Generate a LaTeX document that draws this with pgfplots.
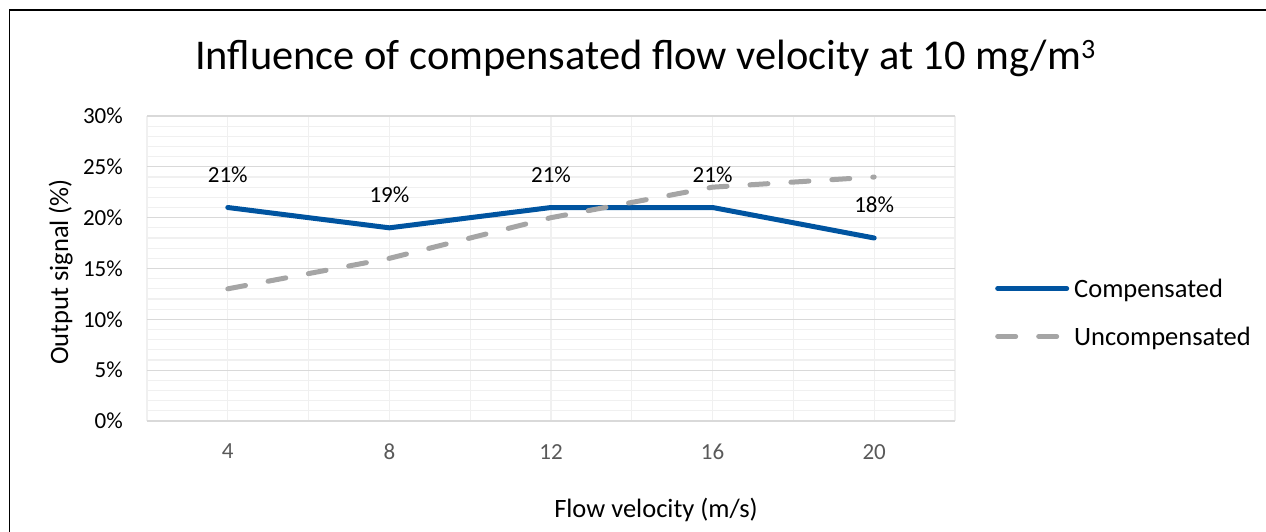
\documentclass[border=0pt]{standalone}
\usepackage{pgfplots}
\pgfplotsset{compat=1.18}
\usepackage{fontspec}
\setmainfont{Carlito}
\definecolor{compblue}{RGB}{0,84,160}
\definecolor{uncgray}{RGB}{165,165,165}
\definecolor{majgrid}{RGB}{217,217,217}
\definecolor{mingrid}{RGB}{240,240,240}
\definecolor{ticktext}{RGB}{89,89,89}
\begin{document}
\begin{tikzpicture}[x=1pt,y=1pt]
\path[use as bounding box] (0pt,0pt) rectangle (1266pt,531pt);
\draw[line width=1.6pt,black] (9.5pt,-20pt) -- (9.5pt,521pt) -- (1290pt,521pt);
\node[anchor=base west,inner sep=0pt,font=\fontsize{42.4}{50}\selectfont] at (195pt,461pt)
  {Influence of compensated flow velocity at 10 mg/m\raisebox{11pt}{\fontsize{28}{30}\selectfont 3}};
\node[anchor=base,inner sep=0pt,font=\fontsize{26.5}{30}\selectfont] at (656pt,14pt) {Flow velocity (m/s)};
\node[anchor=base,rotate=90,inner sep=0pt,font=\fontsize{26.5}{30}\selectfont] at (68pt,259pt) {Output signal (\%)};
\begin{axis}[
  at={(147pt,110pt)}, anchor=south west,
  scale only axis, width=808pt, height=305pt,
  xmin=2, xmax=22, ymin=0, ymax=30,
  xtick={4,8,12,16,20},
  minor xtick={2,6,10,14,18,22},
  ytick={0,5,10,15,20,25,30},
  minor ytick={1,2,3,4,6,7,8,9,11,12,13,14,16,17,18,19,21,22,23,24,26,27,28,29},
  grid=both,
  major grid style={draw=majgrid, line width=1.2pt},
  minor grid style={draw=mingrid, line width=1.2pt},
  major x grid style={draw=mingrid, line width=1.2pt},
  minor x grid style={draw=mingrid, line width=1.2pt},
  major tick length=0pt, minor tick length=0pt,
  axis line style={draw=none},
  /pgf/number format/assume math mode=true,
  yticklabel={\pgfmathprintnumber{\tick}\%},
  ticklabel style={font=\fontsize{23}{26}\selectfont, inner sep=0pt},
  xticklabel style={text=ticktext, anchor=north},
  yticklabel style={text=black, anchor=east},
  xticklabel shift=23pt,
  yticklabel shift=24pt,
  legend image code/.code={\draw[#1] (0pt,3pt) -- (69pt,3pt);},
  legend style={at={(axis description cs:1.0495,0.346)}, anchor=west, draw=none, fill=none,
    inner sep=0pt, row sep=24pt, font=\fontsize{26.5}{30}\selectfont,
    nodes={inner sep=0pt, text height=18pt, text depth=6pt},
    /tikz/every odd column/.append style={column sep=5pt}},
  legend cell align=left,
]
\draw[draw=majgrid, line width=1.5pt] (rel axis cs:0,0) -- (rel axis cs:1,0);
\addplot[compblue, line width=5pt, line join=round, line cap=round]
  coordinates {(4,21) (8,19) (12,21) (16,21) (20,18)};
\addlegendentry{Compensated}
\addplot[uncgray, line width=5pt, line cap=round, dash pattern=on 18pt off 23pt]
  coordinates {(4,13) (8,16) (12,20) (16,23) (20,24)};
\addlegendentry{Uncompensated}
\addplot[draw=none, forget plot,
  nodes near coords={\pgfmathprintnumber[assume math mode=true]{\pgfplotspointmeta}\%},
  every node near coord/.append style={font=\fontsize{23}{26}\selectfont, inner sep=0pt, anchor=south, yshift=25pt, text=black}]
  coordinates {(4,21) (8,19) (12,21) (16,21) (20,18)};
\end{axis}
\end{tikzpicture}
\end{document}
